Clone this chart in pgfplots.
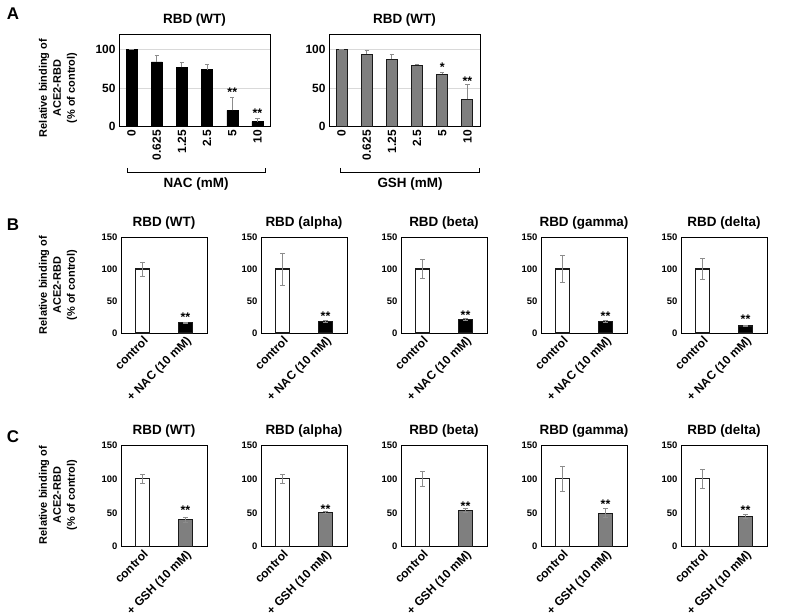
\documentclass[border=0pt]{standalone}
\usepackage{fontspec}
\setmainfont{Liberation Sans}
\usepackage{pgfplots}
\pgfplotsset{compat=1.18}
\definecolor{errgray}{HTML}{8C8C8C}
\definecolor{gshgray}{HTML}{7F7F7F}
\definecolor{edgec}{HTML}{1A1A1A}
\tikzset{sigstar/.style={font=\bfseries\fontsize{12.5}{12.5}\selectfont, inner sep=0pt}}
\pgfplotsset{
  common/.style={
    scale only axis, anchor=south west, clip=false,
    major tick length=0pt,
    axis line style={line width=0.9pt, black},
    /pgf/number format/assume math mode=true,
    title style={font=\bfseries\fontsize{13.5}{15}\selectfont, yshift=-2bp},
    error bars/error bar style={errgray, line width=0.9pt},
    error bars/error mark options={rotate=90, errgray, mark size=2.2pt, line width=0.9pt},
  },
  apanel/.style={common,
    width=151bp, height=92.7bp,
    xmin=-0.5, xmax=5.5, ymin=0, ymax=120,
    ytick={0,50,100}, ymajorgrids, grid style={gray!30, line width=0.6pt},
    xtick={0,1,2,3,4,5}, xticklabels={0,0.625,1.25,2.5,5,10},
    yticklabel style={font=\bfseries\fontsize{12}{13}\selectfont},
    xticklabel style={font=\bfseries\fontsize{12}{13}\selectfont, rotate=90, anchor=east},
    title={RBD (WT)}, title style={yshift=0bp},
  },
  bpanel/.style={common,
    width=86bp, height=96bp,
    xmin=-0.5, xmax=1.5, ymin=0, ymax=150,
    ytick={0,50,100,150}, xtick={0,1},
    yticklabel style={font=\bfseries\fontsize{9.5}{10}\selectfont},
    xticklabel style={font=\bfseries\fontsize{12}{13}\selectfont, rotate=45, anchor=north east, inner sep=1.5bp},
  },
  cpanel/.style={bpanel, height=101.7bp},
  ctrlbar/.style={ybar, bar shift=0pt, bar width=14bp, draw=edgec, fill=white, line width=1.2pt,
    error bars/.cd, y dir=both, y explicit},
  nacbar/.style={ybar, bar shift=0pt, bar width=14bp, draw=edgec, fill=black, line width=1.2pt,
    error bars/.cd, y dir=both, y explicit},
  gshbar/.style={ybar, bar shift=0pt, bar width=14bp, draw=edgec, fill=gshgray, line width=1.2pt,
    error bars/.cd, y dir=both, y explicit},
}
\begin{document}
\begin{tikzpicture}
\useasboundingbox (0,0) rectangle (790bp,616bp);
% panel letters
\node[font=\bfseries\fontsize{17}{17}\selectfont] at (13bp,602bp) {A};
\node[font=\bfseries\fontsize{17}{17}\selectfont] at (13bp,391bp) {B};
\node[font=\bfseries\fontsize{17}{17}\selectfont] at (13bp,179bp) {C};
% y labels
\foreach \yy in {528,331,121}{
  \node[rotate=90, align=center, font=\bfseries\fontsize{11}{14}\selectfont] at (58bp,\yy bp)
    {Relative binding of\\ACE2-RBD\\(\% of control)};
}
% ---------------- Panel A ----------------
\begin{axis}[apanel, at={(119bp,489.3bp)}]
\addplot[ybar, bar shift=0pt, bar width=11bp, draw=black, fill=black,
  error bars/.cd, y dir=plus, y explicit]
  coordinates {(0,100) +- (0,0.5) (1,84) +- (0,8.5) (2,76.7) +- (0,6) (3,74) +- (0,6) (4,21) +- (0,16.5) (5,6.5) +- (0,4)};
\node[sigstar] at (axis cs:4,44) {**};
\node[sigstar] at (axis cs:5,18) {**};
\end{axis}
\begin{axis}[apanel, at={(329bp,489.3bp)}]
\addplot[ybar, bar shift=0pt, bar width=11bp, draw=edgec, fill=gshgray, line width=0.9pt,
  error bars/.cd, y dir=plus, y explicit]
  coordinates {(0,100) +- (0,0.5) (1,94) +- (0,4.5) (2,87) +- (0,7) (3,79.7) +- (0,1) (4,67.7) +- (0,2.5) (5,35.8) +- (0,19)};
\node[sigstar] at (axis cs:4,77) {*};
\node[sigstar] at (axis cs:5,59) {**};
\end{axis}
% brackets
\draw[line width=0.8pt] (127bp,448bp) -- (127bp,444bp) -- (265bp,444bp) -- (265bp,448bp);
\draw[line width=0.8pt] (340bp,448bp) -- (340bp,444bp) -- (479bp,444bp) -- (479bp,448bp);
\node[font=\bfseries\fontsize{13.5}{15}\selectfont] at (196bp,432bp) {NAC (mM)};
\node[font=\bfseries\fontsize{13.5}{15}\selectfont] at (410bp,432bp) {GSH (mM)};
% ---------------- Panel B ----------------
\begin{axis}[bpanel, at={(121bp,283bp)}, title={RBD (WT)}, xticklabels={control,+ NAC (10 mM)}]
\addplot[ctrlbar] coordinates {(0,100) +- (0,11)};
\addplot[nacbar] coordinates {(1,15.8) +- (0,1)};
\node[sigstar] at (axis cs:1,25) {**};
\end{axis}
\begin{axis}[bpanel, at={(261bp,283bp)}, title={RBD (alpha)}, xticklabels={control,+ NAC (10 mM)}]
\addplot[ctrlbar] coordinates {(0,100) +- (0,25)};
\addplot[nacbar] coordinates {(1,18) +- (0,1.5)};
\node[sigstar] at (axis cs:1,26) {**};
\end{axis}
\begin{axis}[bpanel, at={(401bp,283bp)}, title={RBD (beta)}, xticklabels={control,+ NAC (10 mM)}]
\addplot[ctrlbar] coordinates {(0,100) +- (0,15)};
\addplot[nacbar] coordinates {(1,20.5) +- (0,1.5)};
\node[sigstar] at (axis cs:1,28) {**};
\end{axis}
\begin{axis}[bpanel, at={(541bp,283bp)}, title={RBD (gamma)}, xticklabels={control,+ NAC (10 mM)}]
\addplot[ctrlbar] coordinates {(0,100) +- (0,20.5)};
\addplot[nacbar] coordinates {(1,18) +- (0,2)};
\node[sigstar] at (axis cs:1,27) {**};
\end{axis}
\begin{axis}[bpanel, at={(681bp,283bp)}, title={RBD (delta)}, xticklabels={control,+ NAC (10 mM)}]
\addplot[ctrlbar] coordinates {(0,100) +- (0,16)};
\addplot[nacbar] coordinates {(1,11) +- (0,1)};
\node[sigstar] at (axis cs:1,21) {**};
\end{axis}
% ---------------- Panel C ----------------
\begin{axis}[cpanel, at={(121bp,69.3bp)}, title={RBD (WT)}, xticklabels={control,+ GSH (10 mM)}]
\addplot[ctrlbar] coordinates {(0,100) +- (0,7)};
\addplot[gshbar] coordinates {(1,39.8) +- (0,3.5)};
\node[sigstar] at (axis cs:1,54) {**};
\end{axis}
\begin{axis}[cpanel, at={(261bp,69.3bp)}, title={RBD (alpha)}, xticklabels={control,+ GSH (10 mM)}]
\addplot[ctrlbar] coordinates {(0,100) +- (0,6)};
\addplot[gshbar] coordinates {(1,50.5) +- (0,1)};
\node[sigstar] at (axis cs:1,56) {**};
\end{axis}
\begin{axis}[cpanel, at={(401bp,69.3bp)}, title={RBD (beta)}, xticklabels={control,+ GSH (10 mM)}]
\addplot[ctrlbar] coordinates {(0,100) +- (0,11)};
\addplot[gshbar] coordinates {(1,53.7) +- (0,2.5)};
\node[sigstar] at (axis cs:1,59) {**};
\end{axis}
\begin{axis}[cpanel, at={(541bp,69.3bp)}, title={RBD (gamma)}, xticklabels={control,+ GSH (10 mM)}]
\addplot[ctrlbar] coordinates {(0,100) +- (0,18.5)};
\addplot[gshbar] coordinates {(1,49.5) +- (0,7)};
\node[sigstar] at (axis cs:1,63) {**};
\end{axis}
\begin{axis}[cpanel, at={(681bp,69.3bp)}, title={RBD (delta)}, xticklabels={control,+ GSH (10 mM)}]
\addplot[ctrlbar] coordinates {(0,100) +- (0,14)};
\addplot[gshbar] coordinates {(1,44.5) +- (0,3)};
\node[sigstar] at (axis cs:1,54) {**};
\end{axis}
\end{tikzpicture}
\end{document}
